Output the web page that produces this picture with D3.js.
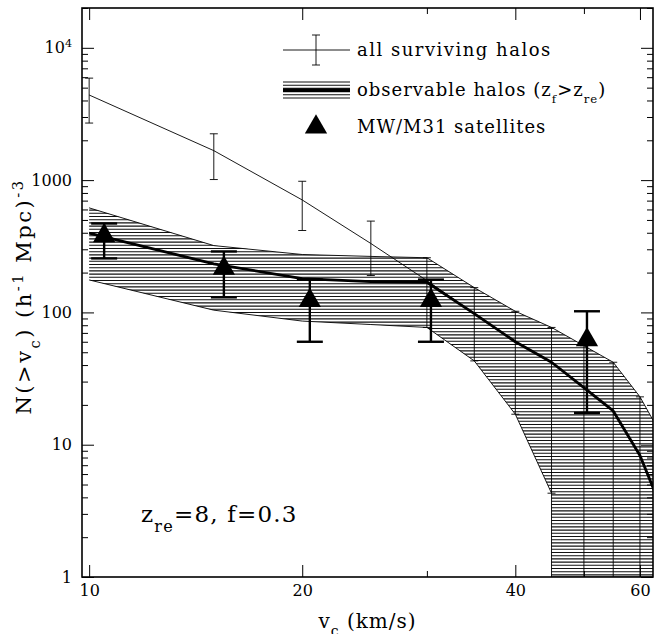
<!DOCTYPE html>
<html>
<head>
<meta charset="utf-8">
<script src="https://cdn.jsdelivr.net/npm/d3@7"></script>
<style>
body{margin:0;background:#fff;}
text{font-family:"DejaVu Serif",serif;fill:#000;}
</style>
</head>
<body>
<div id="chart"></div>
<script>
//velocity bins (km/s)
var vBins = [10, 15, 20, 25, 30, 35, 40, 45, 50, 55, 60, 65];

//all surviving halos (thin line), error bars only on first bins
var allN  = [4400, 1670, 708, 332, 174, 98, 60, 42, 27, 18, 8.3, 2.9];
var allLo = [2700, 1010, 416, 190];
var allHi = [5900, 2240, 980, 490];

//observable halos (thick line + hatched band)
var obsN  = [397, 233, 180, 171, 169, 98, 60, 42, 27, 18, 8.3, 2.9];
var obsHi = [617, 320, 274, 265, 259, 154, 102, 77, 56, 42, 23, 10.7];
var obsLo = [176, 104, 86, 81, 77, 43, 17, 4.3, 0, 0, 0, 0];

//MW/M31 satellites
var satV  = [10.5, 15.5, 20.5, 30.4, 50.5];
var satN  = [380, 215, 123, 123, 62];
var satLo = [256, 130, 60, 60, 17.4];
var satHi = [470, 289, 177, 177, 102];

//ticks
var xTicks = [10, 20, 40, 60];
var xMinor = [30, 50];
var yTicks = [1, 10, 100, 1000, 10000];

d3.haloPlot = function () {
    var w = 663, h = 634;
    var mLeft = 82, mRight = 653, mTop = 8, mBottom = 577;

    //1.append svg
    var svg = d3.select("#chart").append("svg")
        .attr("width", w)
        .attr("height", h);

    var x = d3.scaleLog().domain([9.77, 62.6]).range([mLeft, mRight]);
    var y = d3.scaleLog().domain([1, 2e4]).range([mBottom, mTop]).clamp(true);

    var defs = svg.append("defs");
    defs.append("clipPath").attr("id", "plotClip")
        .append("rect")
        .attr("x", mLeft).attr("y", mTop)
        .attr("width", mRight - mLeft).attr("height", mBottom - mTop);

    //2.band polygon (upper edge, then lower edge back)
    var upperPts = vBins.map(function (v, i) {return [x(v), y(obsHi[i])];});
    var lowerPts = [];
    for (var i = vBins.length - 1; i >= 0; i--) {
        if (obsLo[i] > 0) {
            //drop straight down where the lower edge goes to zero
            if (i + 1 < vBins.length && !(obsLo[i + 1] > 0)) lowerPts.push([x(vBins[i]), mBottom]);
            lowerPts.push([x(vBins[i]), y(obsLo[i])]);
        }
        else {lowerPts.push([x(vBins[i]), mBottom]);}
    }
    var line = d3.line();
    defs.append("clipPath").attr("id", "bandClip")
        .append("path")
        .attr("d", line(upperPts.concat(lowerPts)) + "Z");

    var plot = svg.append("g").attr("clip-path", "url(#plotClip)");

    //hatching
    plot.append("g")
        .attr("clip-path", "url(#bandClip)")
        .selectAll("line")
        .data(d3.range(mTop + 0.5, mBottom, 3.2))
        .enter()
        .append("line")
        .attr("x1", mLeft).attr("x2", mRight)
        .attr("y1", function (d) {return d;})
        .attr("y2", function (d) {return d;})
        .attr("stroke", "#111")
        .attr("stroke-width", 1.1);

    //band edges
    plot.append("path").attr("d", line(upperPts))
        .attr("fill", "none").attr("stroke", "#000").attr("stroke-width", 0.9);
    plot.append("path").attr("d", line(lowerPts))
        .attr("fill", "none").attr("stroke", "#000").attr("stroke-width", 0.9);

    //band error bars for v >= 30
    var bandBars = vBins.map(function (v, i) {return {v: v, hi: obsHi[i], lo: obsLo[i]};})
        .filter(function (d) {return d.v >= 30 && d.v <= 60;});
    var bb = plot.append("g").attr("stroke", "#000").attr("stroke-width", 0.9);
    bb.selectAll(".vbar").data(bandBars).enter().append("line")
        .attr("x1", function (d) {return x(d.v);})
        .attr("x2", function (d) {return x(d.v);})
        .attr("y1", function (d) {return y(d.hi);})
        .attr("y2", function (d) {return d.lo > 0 ? y(d.lo) : mBottom;});
    bb.selectAll(".capHi").data(bandBars).enter().append("line")
        .attr("x1", function (d) {return x(d.v) - 4;})
        .attr("x2", function (d) {return x(d.v) + 4;})
        .attr("y1", function (d) {return y(d.hi);})
        .attr("y2", function (d) {return y(d.hi);});
    bb.selectAll(".capLo").data(bandBars.filter(function (d) {return d.lo > 0;})).enter().append("line")
        .attr("x1", function (d) {return x(d.v) - 4;})
        .attr("x2", function (d) {return x(d.v) + 4;})
        .attr("y1", function (d) {return y(d.lo);})
        .attr("y2", function (d) {return y(d.lo);});

    //3.all surviving halos: thin line + error bars
    var lineGen = d3.line()
        .x(function (d) {return x(d.v);})
        .y(function (d) {return y(d.n);});
    var allData = vBins.map(function (v, i) {return {v: v, n: allN[i]};});
    plot.append("path").attr("d", lineGen(allData))
        .attr("fill", "none").attr("stroke", "#000").attr("stroke-width", 0.9);

    var allErr = allLo.map(function (lo, i) {return {v: vBins[i], lo: lo, hi: allHi[i]};});
    var ae = plot.append("g").attr("stroke", "#000").attr("stroke-width", 0.9);
    allErr.forEach(function (d) {
        var cx = x(d.v);
        ae.append("line").attr("x1", cx).attr("x2", cx).attr("y1", y(d.hi)).attr("y2", y(d.lo));
        ae.append("line").attr("x1", cx - 4).attr("x2", cx + 4).attr("y1", y(d.hi)).attr("y2", y(d.hi));
        ae.append("line").attr("x1", cx - 4).attr("x2", cx + 4).attr("y1", y(d.lo)).attr("y2", y(d.lo));
    });

    //4.observable halos: thick line
    var obsData = vBins.map(function (v, i) {return {v: v, n: obsN[i]};});
    plot.append("path").attr("d", lineGen(obsData))
        .attr("fill", "none").attr("stroke", "#000").attr("stroke-width", 2.8)
        .attr("stroke-linejoin", "round");

    //5.satellites: thick error bars + triangles
    var sat = satV.map(function (v, i) {return {v: v, n: satN[i], lo: satLo[i], hi: satHi[i]};});
    var se = plot.append("g").attr("stroke", "#000").attr("stroke-width", 2.4);
    sat.forEach(function (d) {
        var cx = x(d.v);
        se.append("line").attr("x1", cx).attr("x2", cx).attr("y1", y(d.hi)).attr("y2", y(d.lo));
        se.append("line").attr("x1", cx - 13).attr("x2", cx + 13).attr("y1", y(d.hi)).attr("y2", y(d.hi));
        se.append("line").attr("x1", cx - 13).attr("x2", cx + 13).attr("y1", y(d.lo)).attr("y2", y(d.lo));
    });
    var tri = d3.symbol().type(d3.symbolTriangle).size(215);
    plot.selectAll(".sat").data(sat).enter().append("path")
        .attr("d", tri)
        .attr("transform", function (d) {return "translate(" + x(d.v) + "," + y(d.n) + ")";})
        .attr("fill", "#000");

    //6.axes, ticks pointing inwards on all sides
    function styleAxis(g) {
        g.select(".domain").remove();
        g.selectAll(".tick line").attr("stroke", "#000").attr("stroke-width", 1);
        g.attr("font-family", "DejaVu Serif").attr("font-size", 16);
        g.selectAll("text").attr("fill", "#000");
    }
    var yMinor = y.ticks().filter(function (d) {return yTicks.indexOf(d) < 0;});

    svg.append("g").attr("transform", "translate(0," + mBottom + ")")
        .call(d3.axisBottom(x).tickValues(xTicks).tickSize(-12).tickPadding(8).tickFormat(d3.format("d")))
        .call(styleAxis);
    svg.append("g").attr("transform", "translate(0," + mBottom + ")")
        .call(d3.axisBottom(x).tickValues(xMinor).tickSize(-6).tickFormat(""))
        .call(styleAxis);
    svg.append("g").attr("transform", "translate(0," + mTop + ")")
        .call(d3.axisTop(x).tickValues(xTicks).tickSize(-12).tickFormat(""))
        .call(styleAxis);
    svg.append("g").attr("transform", "translate(0," + mTop + ")")
        .call(d3.axisTop(x).tickValues(xMinor).tickSize(-6).tickFormat(""))
        .call(styleAxis);

    var yAxis = svg.append("g").attr("transform", "translate(" + mLeft + ",0)")
        .call(d3.axisLeft(y).tickValues(yTicks).tickSize(-12).tickPadding(10).tickFormat(d3.format("d")))
        .call(styleAxis);
    yAxis.selectAll(".tick text").each(function (d) {
        if (d === 10000) {
            var t = d3.select(this).text("10");
            t.append("tspan").attr("dy", "-0.55em").attr("font-size", "70%").text("4");
        }
    });
    svg.append("g").attr("transform", "translate(" + mLeft + ",0)")
        .call(d3.axisLeft(y).tickValues(yMinor).tickSize(-6).tickFormat(""))
        .call(styleAxis);
    svg.append("g").attr("transform", "translate(" + mRight + ",0)")
        .call(d3.axisRight(y).tickValues(yTicks).tickSize(-12).tickFormat(""))
        .call(styleAxis);
    svg.append("g").attr("transform", "translate(" + mRight + ",0)")
        .call(d3.axisRight(y).tickValues(yMinor).tickSize(-6).tickFormat(""))
        .call(styleAxis);

    //frame
    svg.append("rect")
        .attr("x", mLeft).attr("y", mTop)
        .attr("width", mRight - mLeft).attr("height", mBottom - mTop)
        .attr("fill", "none").attr("stroke", "#000").attr("stroke-width", 1.6);

    //7.axis titles
    var xt = svg.append("text")
        .attr("x", (mLeft + mRight) / 2).attr("y", 628)
        .attr("text-anchor", "middle").attr("font-size", 20).attr("letter-spacing", 1);
    xt.append("tspan").text("v");
    xt.append("tspan").attr("baseline-shift", "sub").attr("font-size", "70%").text("c");
    xt.append("tspan").text(" (km/s)");

    var yt = svg.append("text")
        .attr("transform", "translate(31," + ((mTop + mBottom) / 2 + 4) + ") rotate(-90)")
        .attr("text-anchor", "middle").attr("font-size", 21).attr("letter-spacing", 2.5);
    yt.append("tspan").text("N(>v");
    yt.append("tspan").attr("baseline-shift", "sub").attr("font-size", "70%").text("c");
    yt.append("tspan").text(")  (h");
    yt.append("tspan").attr("baseline-shift", "super").attr("font-size", "70%").text("-1");
    yt.append("tspan").text(" Mpc)");
    yt.append("tspan").attr("baseline-shift", "super").attr("font-size", "70%").text("-3");

    //8.legend
    var lg = svg.append("g");
    lg.append("line").attr("x1", 283).attr("x2", 350).attr("y1", 50).attr("y2", 50)
        .attr("stroke", "#000").attr("stroke-width", 0.9);
    lg.append("line").attr("x1", 316).attr("x2", 316).attr("y1", 35).attr("y2", 65)
        .attr("stroke", "#000").attr("stroke-width", 0.9);
    lg.append("line").attr("x1", 312).attr("x2", 320).attr("y1", 35).attr("y2", 35)
        .attr("stroke", "#000").attr("stroke-width", 0.9);
    lg.append("line").attr("x1", 312).attr("x2", 320).attr("y1", 65).attr("y2", 65)
        .attr("stroke", "#000").attr("stroke-width", 0.9);

    lg.selectAll(".hatch").data(d3.range(82, 101, 3.2)).enter().append("line")
        .attr("x1", 283).attr("x2", 350)
        .attr("y1", function (d) {return d;}).attr("y2", function (d) {return d;})
        .attr("stroke", "#111").attr("stroke-width", 1.1);
    lg.append("line").attr("x1", 283).attr("x2", 350).attr("y1", 90.5).attr("y2", 90.5)
        .attr("stroke", "#000").attr("stroke-width", 2.8);

    lg.append("path").attr("d", tri)
        .attr("transform", "translate(316,127)").attr("fill", "#000");

    var fs = 18;
    lg.append("text").attr("x", 357).attr("y", 56).attr("font-size", fs)
        .attr("letter-spacing", 1.5).text("all surviving halos");
    var t2 = lg.append("text").attr("x", 357).attr("y", 96).attr("font-size", fs).attr("letter-spacing", 1);
    t2.append("tspan").text("observable halos (z");
    t2.append("tspan").attr("baseline-shift", "sub").attr("font-size", "65%").text("f");
    t2.append("tspan").text(">z");
    t2.append("tspan").attr("baseline-shift", "sub").attr("font-size", "65%").text("re");
    t2.append("tspan").text(")");
    lg.append("text").attr("x", 357).attr("y", 133).attr("font-size", fs)
        .attr("letter-spacing", 1).text("MW/M31 satellites");

    //9.annotation
    var an = svg.append("text").attr("x", 141).attr("y", 522).attr("font-size", 23).attr("letter-spacing", 1.2);
    an.append("tspan").text("z");
    an.append("tspan").attr("baseline-shift", "sub").attr("font-size", "70%").text("re");
    an.append("tspan").text("=8,  f=0.3");
};

d3.haloPlot();
</script>
</body>
</html>
